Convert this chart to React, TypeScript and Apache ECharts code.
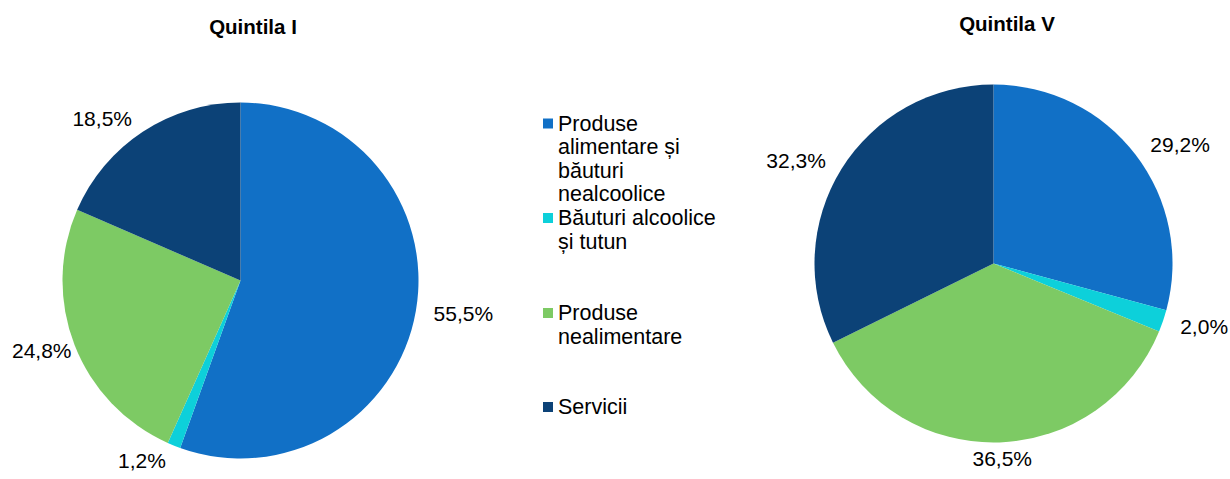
import React, { useEffect, useRef } from "react";
import * as echarts from "echarts";

const categories = [
  "Produse alimentare și băuturi nealcoolice",
  "Băuturi alcoolice și tutun",
  "Produse nealimentare",
  "Servicii",
];
const legendLines = [
  ["Produse", "alimentare și", "băuturi", "nealcoolice"],
  ["Băuturi alcoolice", "și tutun"],
  ["Produse", "nealimentare"],
  ["Servicii"],
];
const colors = ["#1170C6", "#0DD0DA", "#7DCA64", "#0C4277"];
const quintilaI = [55.5, 1.2, 24.8, 18.5];
const quintilaV = [29.2, 2.0, 36.5, 32.3];
const titles = ["Quintila I", "Quintila V"];

const FONT = "Liberation Sans, Arial, sans-serif";

function midAngles(values: number[]) {
  const total = values.reduce((a, b) => a + b, 0);
  let acc = 0;
  return values.map((v) => {
    const m = ((acc + v / 2) / total) * 360;
    acc += v;
    return m;
  });
}

export default function App() {
  const ref = useRef<HTMLDivElement>(null);
  useEffect(() => {
    if (!ref.current) return;
    const chart = echarts.init(ref.current, null, { renderer: "svg" });
    const fmt = (p: any) => `${Number(p.value).toFixed(1).replace(".", ",")}%`;
    const allMids = [midAngles(quintilaI), midAngles(quintilaV)];
    const mkSeries = (name: string, values: number[], center: number[], radius: number) => ({
      type: "pie",
      name,
      center,
      radius,
      startAngle: 90,
      clockwise: true,
      avoidLabelOverlap: false,
      silent: true,
      data: values.map((v, i) => ({ name: categories[i], value: v, itemStyle: { color: colors[i] } })),
      label: {
        show: true,
        position: "outside",
        formatter: fmt,
        fontSize: 21,
        fontFamily: FONT,
        color: "#000",
        distanceToLabelLine: 2,
      },
      labelLine: { show: false, length: 16, length2: 0 },
      labelLayout: (params: any) => {
        const m = allMids[params.seriesIndex][params.dataIndex];
        const s = Math.sin((m * Math.PI) / 180);
        const out: any = {};
        if (Math.abs(s) < 0.15) out.align = "center";
        if (params.labelRect && params.labelRect.x < 12) out.dx = 12 - params.labelRect.x;
        return out;
      },
      itemStyle: { borderWidth: 0 },
      emphasis: { disabled: true },
    });

    const legendTop = [111.75, 206.25, 301.25, 395.25];
    const lh = 23.5;
    const legendGraphics: any[] = [];
    legendLines.forEach((lines, i) => {
      legendGraphics.push({
        type: "rect",
        shape: { x: 543, y: legendTop[i] + lh / 2 - 5, width: 10, height: 10 },
        style: { fill: colors[i] },
      });
      legendGraphics.push({
        type: "text",
        x: 558,
        y: legendTop[i],
        style: {
          text: lines.join("\n"),
          font: `21.5px ${FONT}`,
          fill: "#000",
          lineHeight: lh,
          verticalAlign: "top",
          align: "left",
        },
      });
    });

    chart.setOption({
      animation: false,
      backgroundColor: "#fff",
      title: [
        {
          text: titles[0],
          left: 253,
          top: 16,
          padding: 0,
          textAlign: "center",
          textStyle: { fontSize: 20.5, fontWeight: "bold", fontFamily: FONT, color: "#000" },
        },
        {
          text: titles[1],
          left: 1007,
          top: 13,
          padding: 0,
          textAlign: "center",
          textStyle: { fontSize: 20.5, fontWeight: "bold", fontFamily: FONT, color: "#000" },
        },
      ],
      graphic: legendGraphics,
      series: [
        mkSeries(titles[0], quintilaI, [240.5, 280.5], 178),
        mkSeries(titles[1], quintilaV, [993.5, 263.5], 179),
      ],
    });
    return () => chart.dispose();
  }, []);
  return (
    <div
      ref={ref}
      style={{ position: "fixed", left: 0, top: 0, width: 1230, height: 479, background: "#fff" }}
    />
  );
}
